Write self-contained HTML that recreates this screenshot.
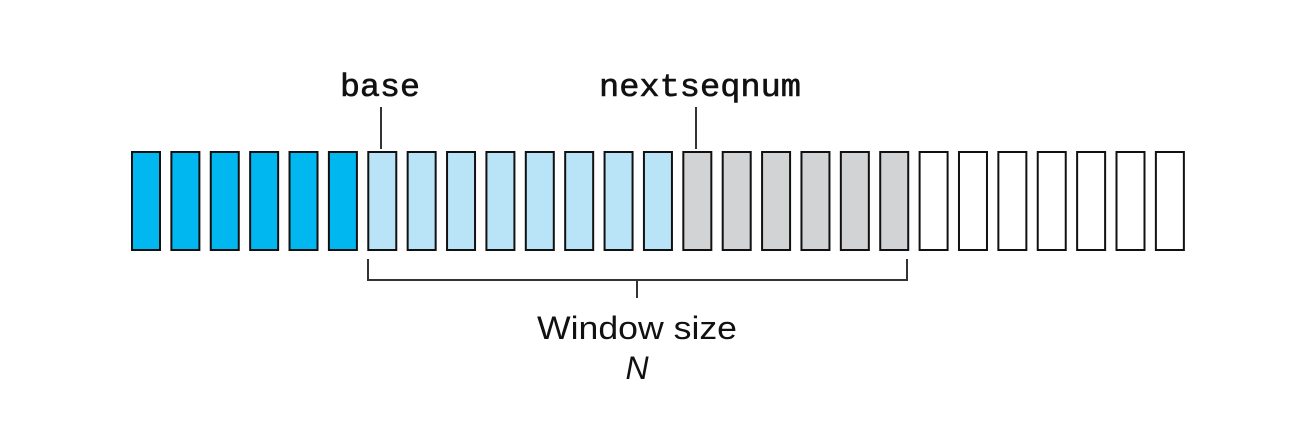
<!DOCTYPE html>
<html><head><meta charset="utf-8"><style>
html,body{margin:0;padding:0;background:#fff;}
</style></head><body>
<svg id="chart" width="1316" height="420" xmlns="http://www.w3.org/2000/svg">
<g id="boxes"></g>
<line x1="381" y1="107" x2="381" y2="149" stroke="#333" stroke-width="2"/>
<line x1="696" y1="107" x2="696" y2="149" stroke="#333" stroke-width="2"/>
<text x="340" y="96" textLength="80" lengthAdjust="spacingAndGlyphs" font-family="Liberation Mono, monospace" font-size="32" stroke="#111" stroke-width="0.6" fill="#111">base</text>
<text x="599" y="96" textLength="202" lengthAdjust="spacingAndGlyphs" font-family="Liberation Mono, monospace" font-size="32" stroke="#111" stroke-width="0.6" fill="#111">nextseqnum</text>
<path d="M368 259 V280 H907 V259 M637 280 V298" fill="none" stroke="#333" stroke-width="2"/>
<text x="537" y="339" textLength="200" lengthAdjust="spacingAndGlyphs" font-family="Liberation Sans, sans-serif" font-size="32" fill="#111">Window size</text>
<text x="637" y="379" text-anchor="middle" font-family="Liberation Sans, sans-serif" font-size="32" font-style="italic" fill="#111">N</text>
</svg>
<script>
const counts = [6, 8, 6, 7];
const fills = ["#00b7f0", "#b9e3f7", "#d1d3d4", "#ffffff"];
const names = ["acked", "sent-not-acked", "usable-not-sent", "not-usable"];
const g = document.getElementById('boxes');
const x0 = 131, pitch = 39.38;
let i = 0;
counts.forEach((c, k) => {
  for (let j = 0; j < c; j++, i++) {
    const r = document.createElementNS('http://www.w3.org/2000/svg', 'rect');
    r.setAttribute('x', x0 + i * pitch + 1);
    r.setAttribute('y', 152);
    r.setAttribute('width', 28);
    r.setAttribute('height', 98);
    r.setAttribute('fill', fills[k]);
    r.setAttribute('stroke', '#111');
    r.setAttribute('stroke-width', 2);
    
    
    g.appendChild(r);
  }
});
</script>
</body></html>
